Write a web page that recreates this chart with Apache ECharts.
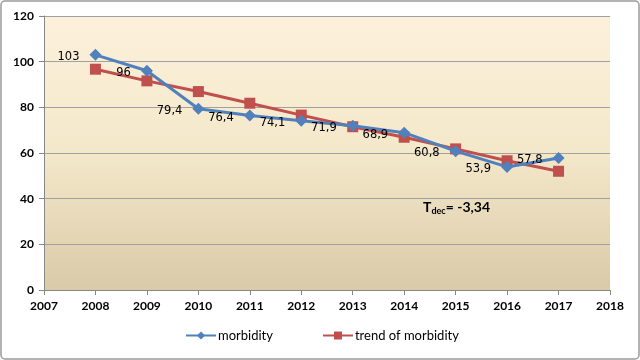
<!DOCTYPE html>
<html><head><meta charset="utf-8">
<script src="https://cdn.jsdelivr.net/npm/echarts@6/dist/echarts.min.js"></script>
<style>html,body{margin:0;padding:0;background:#fff}#c{width:640px;height:360px}</style>
</head><body><div id="c"></div>
<script>
const years = [2008, 2009, 2010, 2011, 2012, 2013, 2014, 2015, 2016, 2017];
const morbidity = [103, 96, 79.4, 76.4, 74.1, 71.9, 68.9, 60.8, 53.9, 57.8];
const trend = [96.7, 91.6, 86.9, 81.8, 76.6, 71.5, 66.9, 61.8, 56.6, 52.0];
const yTicks = [0, 20, 40, 60, 80, 100, 120];

const chart = echarts.init(document.getElementById('c'));
const tickFont = { fontFamily: 'Lato', fontWeight: 'bold', fontSize: 12, color: '#000' };
chart.setOption({
  animation: false,
  backgroundColor: '#fff',
  grid: { left: 44, right: 30, top: 16, bottom: 70, show: true, borderWidth: 0,
    backgroundColor: new echarts.graphic.LinearGradient(0, 0, 0, 1, [
      { offset: 0, color: '#FDF0DB' }, { offset: 0.5, color: '#F4E8CA' }, { offset: 1, color: '#D9CAA8' }]) },
  xAxis: {
    type: 'value', min: 2007, max: 2018, interval: 1,
    axisLine: { show: true, lineStyle: { color: '#888', width: 1 } },
    axisTick: { show: true, lineStyle: { color: '#888' }, length: 5 },
    splitLine: { show: false },
    axisLabel: Object.assign({ formatter: v => String(v), margin: 10 }, tickFont)
  },
  yAxis: {
    type: 'value', min: yTicks[0], max: yTicks[yTicks.length - 1], interval: 20,
    axisLine: { show: true, lineStyle: { color: '#888', width: 1 } },
    axisTick: { show: true, lineStyle: { color: '#888' }, length: 5 },
    splitLine: { show: true, lineStyle: { color: '#A0A0A0', width: 1 } },
    axisLabel: Object.assign({ margin: 10 }, tickFont)
  },
  legend: {
    bottom: 13, left: 180, itemGap: 49, itemWidth: 30, itemHeight: 10,
    textStyle: { fontFamily: 'Lato', fontSize: 13, color: '#000', padding: [0, 0, 0, -3] },
    data: ['morbidity', 'trend of morbidity']
  },
  graphic: [
    { type: 'rect', shape: { x: 1, y: 1, width: 638, height: 358, r: 4 }, style: { fill: 'none', stroke: '#999', lineWidth: 1.5 }, silent: true },
    { type: 'text', left: 423, top: 200, style: {
        text: '{a|T}{b|dec}{a|= -3,34}',
        rich: { a: { fontFamily: 'Lato', fontWeight: 'bold', fontSize: 14, fill: '#000' },
                b: { fontFamily: 'Lato', fontWeight: 'bold', fontSize: 9, fill: '#000', padding: [8, 0, 0, 0] } } } }
  ],
  series: [
    {
      name: 'morbidity', type: 'line', z: 3,
      data: years.map((y, i) => [y, morbidity[i]]),
      symbol: 'diamond', symbolSize: 12,
      lineStyle: { color: '#4F81BD', width: 3 },
      itemStyle: { color: '#4F81BD' },
      label: { show: true, position: 'left', distance: 10, offset: [0, 2],
        fontFamily: 'DejaVu Sans', fontSize: 11.5, color: '#000',
        formatter: p => String(p.value[1]).replace('.', ',') }
    },
    {
      name: 'trend of morbidity', type: 'line', z: 2,
      data: years.map((y, i) => [y, trend[i]]),
      symbol: 'rect', symbolSize: 11,
      lineStyle: { color: '#C0504D', width: 3 },
      itemStyle: { color: '#C0504D' }
    }
  ]
});
</script></body></html>
